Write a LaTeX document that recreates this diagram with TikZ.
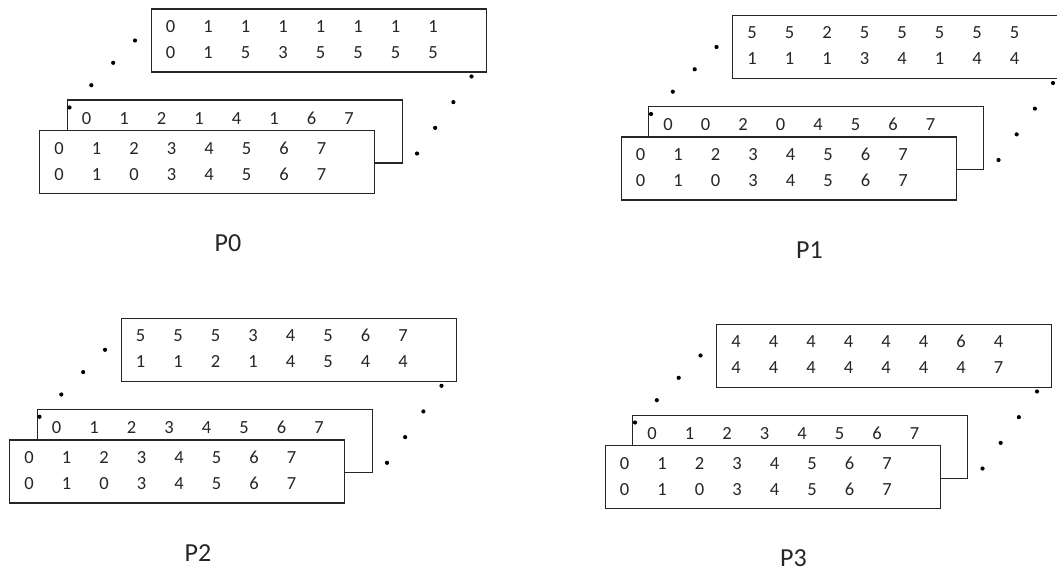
\documentclass[tikz,border=0pt]{standalone}
\usepackage{fontspec}
\setmainfont{Carlito}
\usepackage{tikz}
\usetikzlibrary{calc,positioning}
\newcommand{\digitfont}{\fontsize{18.5}{22}\selectfont}
\newcommand{\labelfont}{\fontsize{26}{30}\selectfont}
\tikzset{
  box/.style={draw=black!85,line width=1.2pt,fill=white,minimum width=335pt,minimum height=63pt,anchor=north west,inner sep=0pt},
  row/.style={anchor=west,inner sep=0pt,font=\digitfont,text=black!85},
  plabel/.style={font=\labelfont,inner sep=0pt,text=black!85}
}
\newcommand{\cells}[1]{\foreach \n in {#1}{\makebox[37.5pt]{\n}}}
% one stack of tables: back, middle, front, the dots and the name
\newcommand{\panel}[6]{%
  \node[box] (#1top) at (#2) {};
  \node[row] (#1topa) at ($(#1top.north west)+(1,18)$) {\cells{#3}};
  \node[row] (#1topb) at ($(#1top.north west)+(1,44)$) {\cells{#4}};
  \node[box] (#1mid) at ($(#1top.north west)+(-84,91)$) {};
  \node[row] (#1mida) at ($(#1mid.north west)+(1,18.5)$) {\cells{#5}};
  \node[box] (#1front) at ($(#1top.north west)+(-111.5,121.5)$) {};
  \node[row] (#1fronta) at ($(#1front.north west)+(1,18)$) {\cells{0,1,2,3,4,5,6,7}};
  \node[row] (#1frontb) at ($(#1front.north west)+(1,44)$) {\cells{0,1,0,3,4,5,6,7}};
  \coordinate (#1la) at ($(#1top.north west)+(-15.5,32)$);
  \coordinate (#1lb) at ($(#1top.north west)+(-81,99)$);
  \coordinate (#1ra) at ($(#1top.north west)+(321,68)$);
  \coordinate (#1rb) at ($(#1top.north west)+(266.5,145)$);
  \foreach \t in {0,0.333,0.667,1}{
    \fill ($(#1la)!\t!(#1lb)$) circle (2.1pt);
    \fill ($(#1ra)!\t!(#1rb)$) circle (2.1pt);
  }
  \node[plabel] (#1name) at ($(#1top.north west)+(77.5,235)$) {#6};
}
\begin{document}
\begin{tikzpicture}[x=1pt,y=-1pt]
\useasboundingbox (0,0) rectangle (1057,572);
\clip (0,0) rectangle (1057,572);
\fill[white] (0,0) rectangle (1057,572);
\panel{p0}{150.5,8.5}{0,1,1,1,1,1,1,1}{0,1,5,3,5,5,5,5}{0,1,2,1,4,1,6,7}{P0}
\panel{p1}{732,15}{5,5,2,5,5,5,5,5}{1,1,1,3,4,1,4,4}{0,0,2,0,4,5,6,7}{P1}
\panel{p2}{120.5,317.8}{5,5,5,3,4,5,6,7}{1,1,2,1,4,5,4,4}{0,1,2,3,4,5,6,7}{P2}
\panel{p3}{716,323.5}{4,4,4,4,4,4,6,4}{4,4,4,4,4,4,4,7}{0,1,2,3,4,5,6,7}{P3}
\end{tikzpicture}
\end{document}
